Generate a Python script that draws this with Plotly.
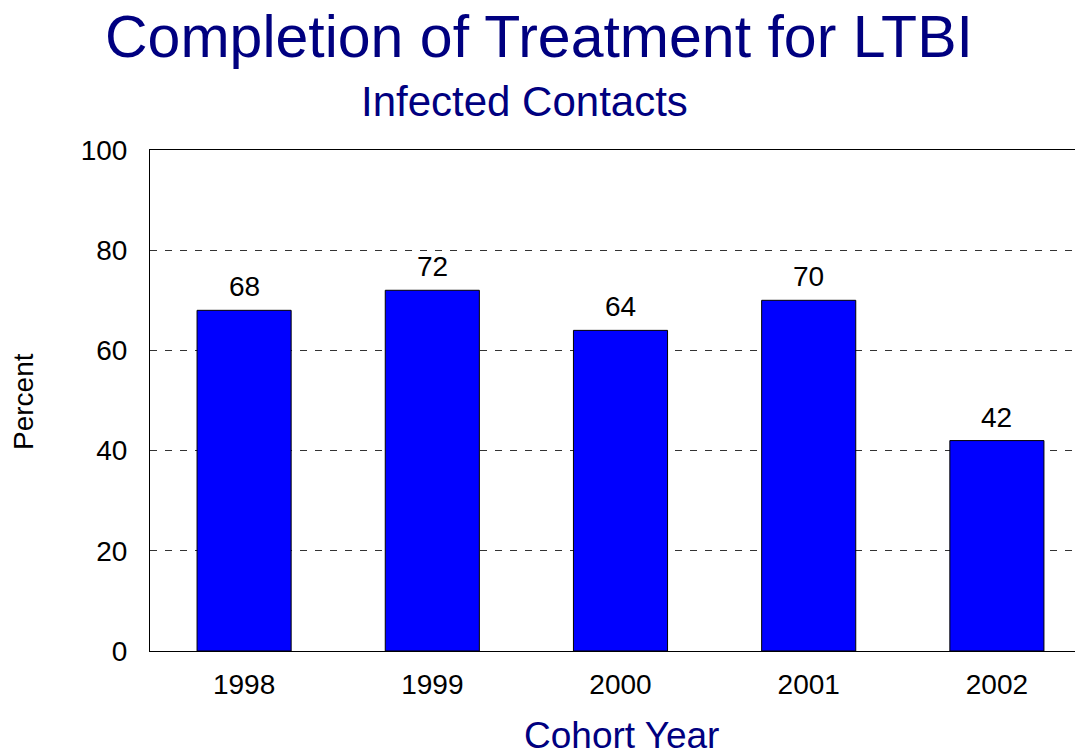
import plotly.graph_objects as go

years = ["1998", "1999", "2000", "2001", "2002"]
percent = [68, 72, 64, 70, 42]
y_ticks = [0, 20, 40, 60, 80, 100]

FONT = "Arial, Liberation Sans, sans-serif"
NAVY = "#000080"

bars = go.Bar(
    x=years,
    y=percent,
    width=0.5,
    marker=dict(color="#0000FF", line=dict(color="black", width=1)),
    hoverinfo="x+y",
)

fig = go.Figure(data=[bars])

# value labels sitting above each bar (x given as category index)
value_labels = [
    dict(text=str(v), x=i, y=v, xref="x", yref="y", xanchor="center",
         yanchor="bottom", yshift=6, showarrow=False,
         font=dict(size=28, color="black"))
    for i, v in enumerate(percent)
]

titles = [
    dict(text="Completion of Treatment for LTBI", xref="paper", yref="paper",
         x=0.4134, y=1.2255, xanchor="center", yanchor="middle", showarrow=False,
         font=dict(size=59, color=NAVY)),
    dict(text="Infected Contacts", xref="paper", yref="paper",
         x=0.3980, y=1.0978, xanchor="center", yanchor="middle", showarrow=False,
         font=dict(size=42, color=NAVY)),
    dict(text="Cohort Year", xref="paper", yref="paper",
         x=0.5011, y=-0.1687, xanchor="center", yanchor="middle", showarrow=False,
         font=dict(size=37, color=NAVY)),
    dict(text="Percent", xref="paper", yref="paper", textangle=-90,
         x=-0.1350, y=0.4990, xanchor="center", yanchor="middle", showarrow=False,
         font=dict(size=28, color="black")),
]

fig.update_layout(
    width=1083,
    height=751,
    # page body adds ~8px offset, margins compensate so plot sits at 150..651
    margin=dict(l=142, r=0, t=142, b=108),
    paper_bgcolor="white",
    plot_bgcolor="white",
    font=dict(family=FONT, color="black"),
    showlegend=False,
    xaxis=dict(
        type="category",
        range=[-0.5, 4.5],
        showline=True,
        linecolor="black",
        linewidth=1,
        mirror=True,
        showgrid=False,
        ticks="",
        tickfont=dict(size=28, color="black"),
        ticklabelstandoff=8,
    ),
    yaxis=dict(
        range=[0, 100],
        tickvals=y_ticks,
        showline=True,
        linecolor="black",
        linewidth=1,
        showgrid=True,
        gridcolor="#333333",
        griddash="7px,8px",
        gridwidth=1,
        zeroline=False,
        ticks="",
        tickfont=dict(size=28, color="black"),
        ticklabelstandoff=16,
    ),
    annotations=value_labels + titles,
)

fig.write_html("out.html")
